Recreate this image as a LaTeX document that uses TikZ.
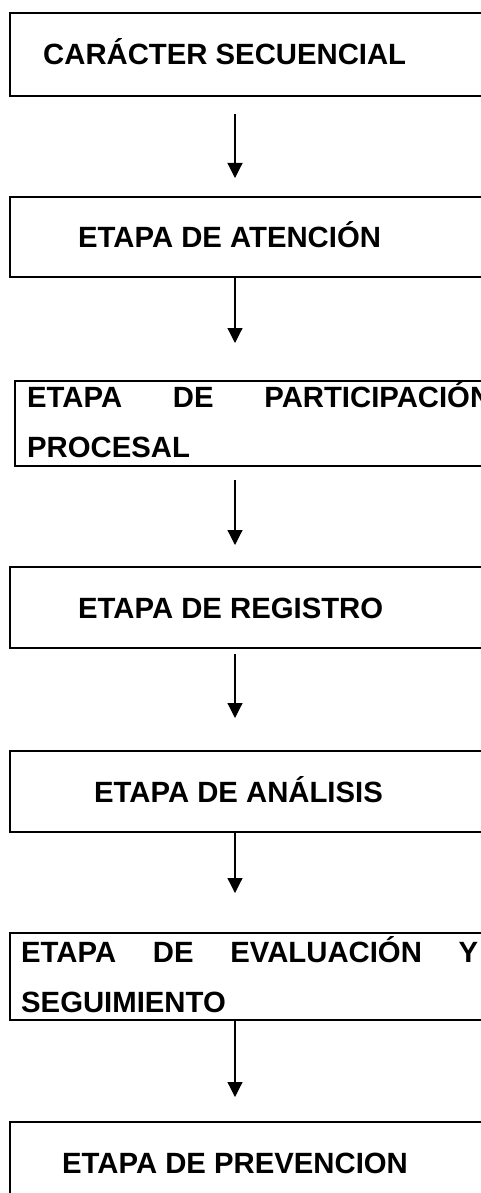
\documentclass[tikz,border=0pt]{standalone}
\usepackage{fontspec}
\setmainfont{Liberation Sans}
\usetikzlibrary{arrows.meta}
\tikzset{
  box/.style={draw=black, line width=1.2pt, anchor=north west, minimum width=520pt, inner sep=0pt, outer sep=0pt},
  txt/.style={anchor=base west, inner sep=0pt, font=\fontsize{29.3}{35}\selectfont\bfseries},
  arr/.style={line width=1.2pt, -{Triangle[width=15pt,length=15pt]}}
}
\begin{document}
\begin{tikzpicture}[x=1pt,y=-1pt]
\useasboundingbox (0,0) rectangle (480,1193);
\coordinate (ax) at (235,0);
% boxes
\node[box, minimum height=83pt] (b1) at (10,13) {};
\node[box, minimum height=80pt] (b2) at (10,197) {};
\node[box, minimum height=85pt] (b3) at (15,381) {};
\node[box, minimum height=81pt] (b4) at (10,567) {};
\node[box, minimum height=81pt] (b5) at (10,751) {};
\node[box, minimum height=87pt] (b6) at (10,933) {};
\node[box, minimum height=120pt] (b7) at (10,1122) {};
% texts
\node[txt] (t1) at (43,65) {CARÁCTER SECUENCIAL};
\node[txt] (t2) at (78,247) {ETAPA DE ATENCIÓN};
\node[txt] (t3a) at (27,407) {\makebox[464pt][s]{ETAPA\hfill DE\hfill PARTICIPACIÓN}};
\node[txt] (t3b) at (27,457) {PROCESAL};
\node[txt] (t4) at (78,618) {ETAPA DE REGISTRO};
\node[txt] (t5) at (94,802) {ETAPA DE ANÁLISIS};
\node[txt] (t6a) at (21,962) {\makebox[457pt][s]{ETAPA\hfill DE\hfill EVALUACIÓN\hfill Y}};
\node[txt] (t6b) at (21,1012) {SEGUIMIENTO};
\node[txt] (t7) at (62,1173) {ETAPA DE PREVENCION};
% arrows
\draw[arr, shorten <=18pt, shorten >=19pt] (b1.south west -| ax) -- (b2.north west -| ax);
\draw[arr, shorten >=38pt] (b2.south west -| ax) -- (b3.north west -| ax);
\draw[arr, shorten <=14pt, shorten >=22pt] (b3.south west -| ax) -- (b4.north west -| ax);
\draw[arr, shorten <=6pt, shorten >=33pt] (b4.south west -| ax) -- (b5.north west -| ax);
\draw[arr, shorten >=40pt] (b5.south west -| ax) -- (b6.north west -| ax);
\draw[arr, shorten >=25pt] (b6.south west -| ax) -- (b7.north west -| ax);
\end{tikzpicture}
\end{document}
